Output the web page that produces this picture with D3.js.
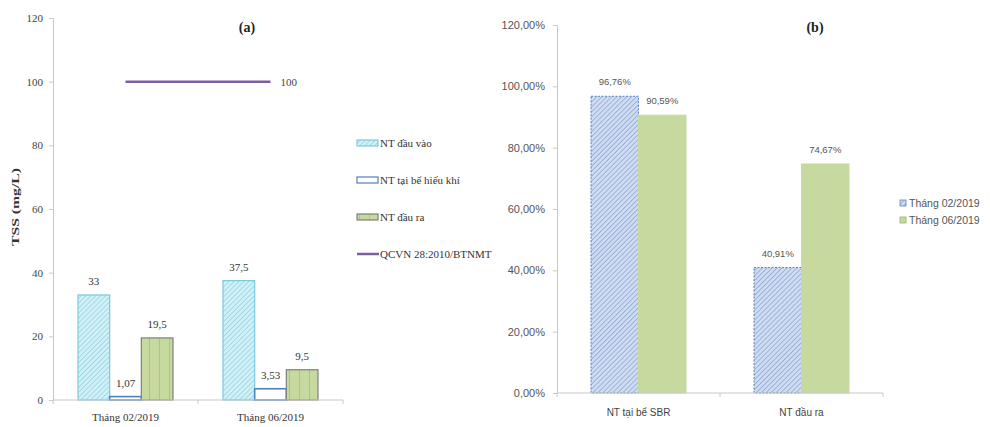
<!DOCTYPE html>
<html>
<head>
<meta charset="utf-8">
<script src="https://cdn.jsdelivr.net/npm/d3@7/dist/d3.min.js"></script>
<style>
  html, body { margin: 0; padding: 0; background: #fff; }
  svg { display: block; }
</style>
</head>
<body>
<svg id="chart" width="990" height="427"></svg>
<script>
// ---- Panel (a): TSS concentration ----
const catsA = ["Tháng 02/2019", "Tháng 06/2019"];
const seriesA = ["NT đầu vào", "NT tại bể hiếu khí", "NT đầu ra"];
const inflow = [33, 37.5];
const aerobic = [1.07, 3.53];
const outflow = [19.5, 9.5];
const limitLabel = "QCVN 28:2010/BTNMT";
const limitValue = 100;
const ticksA = [0, 20, 40, 60, 80, 100, 120];

// ---- Panel (b): removal efficiency ----
const catsB = ["NT tại bể SBR", "NT đầu ra"];
const seriesB = ["Tháng 02/2019", "Tháng 06/2019"];
const febEff = [0.9676, 0.4091];
const junEff = [0.9059, 0.7467];
const ticksB = [0, 0.2, 0.4, 0.6, 0.8, 1.0, 1.2];

const svg = d3.select("#chart");
const serif = "'Liberation Serif', 'Times New Roman', serif";
const sans = "'Liberation Sans', Arial, sans-serif";
const comma = v => String(v).replace(".", ",");
const pct = v => (v * 100).toFixed(2).replace(".", ",") + "%";

// fill patterns
const defs = svg.append("defs");
function diag(id, bg, fg) {
  const p = defs.append("pattern").attr("id", id)
    .attr("patternUnits", "userSpaceOnUse").attr("width", 3.5).attr("height", 3.5)
    .attr("patternTransform", "rotate(45)");
  p.append("rect").attr("width", 3.5).attr("height", 3.5).attr("fill", bg);
  p.append("line").attr("x1", 0).attr("y1", 0).attr("x2", 0).attr("y2", 3.5)
    .attr("stroke", fg).attr("stroke-width", 1.3);
}
diag("hatchCyan", "#d4f0f7", "#7fcfe2");
diag("hatchBlue", "#cfdcf1", "#7f9dd0");
const vp = defs.append("pattern").attr("id", "vertGreen")
  .attr("patternUnits", "userSpaceOnUse").attr("width", 10).attr("height", 10);
vp.append("rect").attr("width", 10).attr("height", 10).attr("fill", "#c6d99f");
vp.append("line").attr("x1", 9.5).attr("y1", 0).attr("x2", 9.5).attr("y2", 10)
  .attr("stroke", "#aec384").attr("stroke-width", 1);

const fillA = ["url(#hatchCyan)", "#ffffff", "url(#vertGreen)"];
const strokeA = ["#7cc8dc", "#4f81bd", "#7f7f7f"];

// ===== Panel (a) =====
const gA = svg.append("g");
const yA = d3.scaleLinear().domain([0, 120]).range([400, 18]);
const x0A = d3.scaleBand().domain(catsA).range([53, 343]);
const gapA = 50;
const x1A = d3.scaleBand().domain(seriesA).range([gapA / 2, x0A.bandwidth() - gapA / 2]);
const valsA = [inflow, aerobic, outflow];

const yAxisA = d3.axisLeft(yA).tickValues(ticksA).tickSize(4).tickPadding(6);
gA.append("g").attr("transform", "translate(53,0)").call(yAxisA)
  .call(g => g.select(".domain").attr("stroke", "#c8c8c8"))
  .call(g => g.selectAll(".tick line").attr("stroke", "#c8c8c8"))
  .call(g => g.selectAll(".tick text").attr("font-family", serif).attr("font-size", 11).attr("fill", "#444"));

gA.append("text").attr("transform", `translate(19,${yA(60) - 2}) rotate(-90)`)
  .attr("text-anchor", "middle").attr("font-family", serif).attr("font-weight", "bold")
  .attr("font-size", 10).attr("textLength", 78).attr("lengthAdjust", "spacingAndGlyphs")
  .attr("fill", "#333").text("TSS (mg/L)");

seriesA.forEach((s, si) => {
  gA.append("g").selectAll("rect").data(catsA).join("rect")
    .attr("x", c => x0A(c) + x1A(s))
    .attr("width", x1A.bandwidth())
    .attr("y", (c, i) => yA(valsA[si][i]))
    .attr("height", (c, i) => yA(0) - yA(valsA[si][i]))
    .attr("fill", fillA[si]).attr("stroke", strokeA[si])
    .attr("stroke-width", si === 1 ? 1.6 : 1.2);
  gA.append("g").selectAll("text").data(catsA).join("text")
    .attr("x", c => x0A(c) + x1A(s) + x1A.bandwidth() / 2)
    .attr("y", (c, i) => yA(valsA[si][i]) - 10)
    .attr("text-anchor", "middle").attr("font-family", serif).attr("font-size", 11)
    .attr("fill", "#333").text((c, i) => comma(valsA[si][i]));
});

// x axis (a)
gA.append("line").attr("x1", 53).attr("x2", 343).attr("y1", yA(0)).attr("y2", yA(0))
  .attr("stroke", "#c8c8c8");
gA.append("g").selectAll("line").data([...catsA.map(c => x0A(c)), 343]).join("line")
  .attr("x1", d => d).attr("x2", d => d).attr("y1", yA(0)).attr("y2", yA(0) + 4)
  .attr("stroke", "#c8c8c8");
gA.append("g").selectAll("text").data(catsA).join("text")
  .attr("x", c => x0A(c) + x0A.bandwidth() / 2).attr("y", 421)
  .attr("text-anchor", "middle").attr("font-family", serif).attr("font-size", 11)
  .attr("fill", "#333").text(c => c);

// regulation limit line
const limX1 = x0A(catsA[0]) + x0A.bandwidth() / 2;
const limX2 = x0A(catsA[1]) + x0A.bandwidth() / 2;
gA.append("line").attr("x1", limX1).attr("x2", limX2)
  .attr("y1", yA(limitValue)).attr("y2", yA(limitValue))
  .attr("stroke", "#7a5e9e").attr("stroke-width", 2.5);
gA.append("text").attr("x", limX2 + 10).attr("y", yA(limitValue) + 4)
  .attr("font-family", serif).attr("font-size", 11).attr("fill", "#444").text(limitValue);

gA.append("text").attr("x", 247).attr("y", 32).attr("text-anchor", "middle")
  .attr("font-family", serif).attr("font-weight", "bold").attr("font-size", 14)
  .attr("fill", "#222").text("(a)");

// legend (a)
const legA = gA.append("g");
const legItems = seriesA.map((s, i) => ({ label: s, i })).concat([{ label: limitLabel, i: 3 }]);
legItems.forEach((d, k) => {
  const y = 143 + k * 37;
  if (d.i < 3) {
    legA.append("rect").attr("x", 357).attr("y", y - 3).attr("width", 21).attr("height", 6)
      .attr("fill", fillA[d.i]).attr("stroke", strokeA[d.i]).attr("stroke-width", 1.2);
  } else {
    legA.append("line").attr("x1", 357).attr("x2", 379).attr("y1", y).attr("y2", y)
      .attr("stroke", "#7a5e9e").attr("stroke-width", 2.5);
  }
  legA.append("text").attr("x", 380).attr("y", y + 4)
    .attr("font-family", serif).attr("font-size", 11).attr("fill", "#333").text(d.label);
});

// ===== Panel (b) =====
const gB = svg.append("g");
const yB = d3.scaleLinear().domain([0, 1.2]).range([393, 25]);
const x0B = d3.scaleBand().domain(catsB).range([557, 883]);
const gapB = 68;
const x1B = d3.scaleBand().domain(seriesB).range([gapB / 2, x0B.bandwidth() - gapB / 2]);
const valsB = [febEff, junEff];
const fillB = ["url(#hatchBlue)", "#c6d99f"];
const strokeB = ["#5b7fc0", "#c6d99f"];

gB.append("g").attr("transform", "translate(557,0)")
  .call(d3.axisLeft(yB).tickValues(ticksB).tickSize(4).tickPadding(8).tickFormat(pct))
  .call(g => g.select(".domain").attr("stroke", "#c8c8c8"))
  .call(g => g.selectAll(".tick line").attr("stroke", "#c8c8c8"))
  .call(g => g.selectAll(".tick text").attr("font-family", sans).attr("font-size", 11).attr("fill", "#555"));

seriesB.forEach((s, si) => {
  gB.append("g").selectAll("rect").data(catsB).join("rect")
    .attr("x", c => x0B(c) + x1B(s))
    .attr("width", x1B.bandwidth())
    .attr("y", (c, i) => yB(valsB[si][i]))
    .attr("height", (c, i) => yB(0) - yB(valsB[si][i]))
    .attr("fill", fillB[si]).attr("stroke", strokeB[si])
    .attr("stroke-width", 1).attr("stroke-dasharray", si === 0 ? "2,1.5" : null);
  gB.append("g").selectAll("text").data(catsB).join("text")
    .attr("x", c => x0B(c) + x1B(s) + x1B.bandwidth() / 2)
    .attr("y", (c, i) => yB(valsB[si][i]) - 11)
    .attr("text-anchor", "middle").attr("font-family", sans).attr("font-size", 9.5)
    .attr("fill", "#555").text((c, i) => pct(valsB[si][i]));
});

gB.append("line").attr("x1", 557).attr("x2", 883).attr("y1", yB(0)).attr("y2", yB(0))
  .attr("stroke", "#c8c8c8");
gB.append("g").selectAll("line").data([...catsB.map(c => x0B(c)), 883]).join("line")
  .attr("x1", d => d).attr("x2", d => d).attr("y1", yB(0)).attr("y2", yB(0) + 4)
  .attr("stroke", "#c8c8c8");
gB.append("g").selectAll("text").data(catsB).join("text")
  .attr("x", c => x0B(c) + x0B.bandwidth() / 2).attr("y", 416)
  .attr("text-anchor", "middle").attr("font-family", sans).attr("font-size", 10)
  .attr("fill", "#444").text(c => c);

gB.append("text").attr("x", 815).attr("y", 32).attr("text-anchor", "middle")
  .attr("font-family", serif).attr("font-weight", "bold").attr("font-size", 14)
  .attr("fill", "#222").text("(b)");

// legend (b)
seriesB.forEach((s, i) => {
  const y = 204 + i * 17;
  gB.append("rect").attr("x", 900).attr("y", y - 4).attr("width", 6).attr("height", 6)
    .attr("fill", fillB[i]).attr("stroke", i === 0 ? "#5b7fc0" : "#9bb566").attr("stroke-width", 0.8);
  gB.append("text").attr("x", 909).attr("y", y + 3)
    .attr("font-family", sans).attr("font-size", 10.5).attr("fill", "#555").text(s);
});
</script>
</body>
</html>
